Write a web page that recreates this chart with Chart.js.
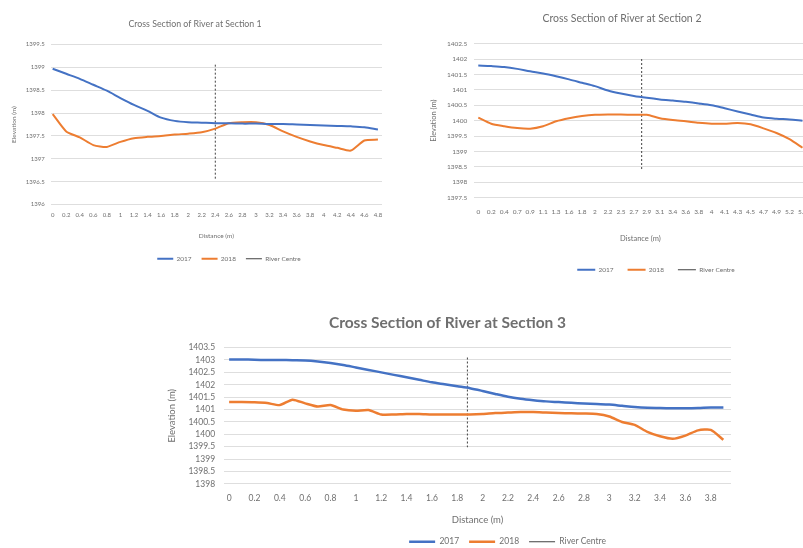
<!DOCTYPE html>
<html>
<head>
<meta charset="utf-8">
<script src="https://cdn.jsdelivr.net/npm/chart.js@4"></script>
<style>
  html, body { margin: 0; padding: 0; background: #fff; overflow: hidden; width: 803px; height: 548px; }
  canvas { position: absolute; }
  #chart1 { left: 0; top: 0; }
  #chart2 { left: 425px; top: 0; }
  #chart3 { left: 160px; top: 300px; }
</style>
</head>
<body>
<canvas id="chart1" width="392" height="276"></canvas>
<canvas id="chart2" width="392" height="289"></canvas>
<canvas id="chart3" width="575" height="256"></canvas>
<script>
// Section 1
const distance1 = [0, 0.2, 0.4, 0.6, 0.8, 1, 1.2, 1.4, 1.6, 1.8, 2, 2.2, 2.4, 2.6, 2.8, 3, 3.2, 3.4, 3.6, 3.8, 4, 4.2, 4.4, 4.6, 4.8];
const elev2017_1 = [1398.97, 1398.86, 1398.75, 1398.62, 1398.49, 1398.33, 1398.18, 1398.05, 1397.9, 1397.83, 1397.8, 1397.79, 1397.78,
  1397.78, 1397.77, 1397.77, 1397.76, 1397.76, 1397.75, 1397.74, 1397.73, 1397.72, 1397.71, 1397.69, 1397.64];
const elev2018_1 = [1397.98, 1397.6, 1397.47, 1397.3, 1397.26, 1397.37, 1397.45, 1397.48, 1397.5, 1397.53, 1397.55, 1397.58, 1397.66,
  1397.78, 1397.8, 1397.8, 1397.74, 1397.6, 1397.48, 1397.38, 1397.3, 1397.24, 1397.18, 1397.4, 1397.42];
const xTicks1 = distance1;
const yTicks1 = [1396, 1396.5, 1397, 1397.5, 1398, 1398.5, 1399, 1399.5];
const riverCentreIdx1 = 12;
const riverCentreY1 = [1399.06, 1396.53];

// Section 2
const distance2 = [0, 0.2, 0.4, 0.7, 0.9, 1.1, 1.3, 1.6, 1.8, 2, 2.2, 2.5, 2.7, 2.9, 3.1, 3.4, 3.6, 3.8, 4, 4.1, 4.3, 4.5, 4.7, 4.9, 5.2, 5.4];
const elev2017_2 = [1401.79, 1401.77, 1401.74, 1401.68, 1401.6, 1401.53, 1401.44, 1401.34, 1401.23, 1401.12, 1400.98, 1400.88, 1400.8,
  1400.74, 1400.69, 1400.65, 1400.61, 1400.56, 1400.5, 1400.4, 1400.3, 1400.2, 1400.1, 1400.06, 1400.04, 1400.0];
const elev2018_2 = [1400.1, 1399.9, 1399.82, 1399.76, 1399.74, 1399.82, 1399.98, 1400.08, 1400.15, 1400.19, 1400.2, 1400.2, 1400.19,
  1400.19, 1400.08, 1400.02, 1399.98, 1399.93, 1399.9, 1399.9, 1399.92, 1399.88, 1399.75, 1399.6, 1399.4, 1399.12];
const xTicks2 = distance2;
const yTicks2 = [1397.5, 1398, 1398.5, 1399, 1399.5, 1400, 1400.5, 1401, 1401.5, 1402, 1402.5];
const riverCentreIdx2 = 12.6;
const riverCentreY2 = [1402.0, 1398.38];

// Section 3
const distance3 = [0, 0.1, 0.2, 0.3, 0.4, 0.5, 0.6, 0.7, 0.8, 0.9, 1, 1.1, 1.2, 1.3, 1.4, 1.5, 1.6, 1.7, 1.8, 1.9,
  2, 2.1, 2.2, 2.3, 2.4, 2.5, 2.6, 2.7, 2.8, 2.9, 3, 3.1, 3.2, 3.3, 3.4, 3.5, 3.6, 3.7, 3.8, 3.9];
const elev2017_3 = [1403.02, 1403.02, 1403.01, 1403.0, 1403.0, 1402.99, 1402.98, 1402.94, 1402.88, 1402.8, 1402.7, 1402.6, 1402.5,
  1402.4, 1402.3, 1402.2, 1402.1, 1402.02, 1401.94, 1401.86, 1401.75, 1401.63, 1401.52, 1401.44, 1401.38, 1401.33, 1401.3,
  1401.27, 1401.24, 1401.22, 1401.2, 1401.15, 1401.1, 1401.07, 1401.06, 1401.05, 1401.05, 1401.06, 1401.08, 1401.08];
const elev2018_3 = [1401.3, 1401.3, 1401.29, 1401.26, 1401.18, 1401.4, 1401.25, 1401.12, 1401.18, 1401.0, 1400.95, 1400.98, 1400.8,
  1400.8, 1400.82, 1400.82, 1400.8, 1400.8, 1400.8, 1400.8, 1400.82, 1400.86, 1400.88, 1400.9, 1400.9, 1400.88, 1400.86,
  1400.85, 1400.84, 1400.82, 1400.72, 1400.5, 1400.38, 1400.1, 1399.92, 1399.82, 1399.95, 1400.16, 1400.18, 1399.78];
const xTicks3 = [0, 0.2, 0.4, 0.6, 0.8, 1, 1.2, 1.4, 1.6, 1.8, 2, 2.2, 2.4, 2.6, 2.8, 3, 3.2, 3.4, 3.6, 3.8];
const yTicks3 = [1398, 1398.5, 1399, 1399.5, 1400, 1400.5, 1401, 1401.5, 1402, 1402.5, 1403, 1403.5];
const riverCentreIdx3 = 18.8;
const riverCentreY3 = [1403.1, 1399.48];

const BLUE = '#4472C4';
const ORANGE = '#ED7D31';
const TEXT = '#6f6f6f';
const FONT = 'Lato, "Open Sans", sans-serif';

// Excel centres the legend a little right of the title; nudge it over after layout
const legendNudge = {
  id: 'legendNudge',
  afterLayout(chart, args, opts) {
    const lg = chart.legend;
    if (lg && opts.dx) { lg.left += opts.dx; lg.right += opts.dx; }
  }
};

function buildChart(id, p) {
  const pts = arr => arr.map((v, i) => ({ x: i, y: v }));
  const tickIdx = p.xTicks.map(t => p.distance.indexOf(t));
  return new Chart(document.getElementById(id), {
    type: 'line',
    data: {
      datasets: [
        { label: '2017', data: pts(p.s2017), borderColor: BLUE, backgroundColor: BLUE, borderWidth: p.lw, pointRadius: 0, tension: 0.3 },
        { label: '2018', data: pts(p.s2018), borderColor: ORANGE, backgroundColor: ORANGE, borderWidth: p.lw, pointRadius: 0, tension: 0.2 },
        { label: 'River Centre', data: p.centreY.map(y => ({ x: p.centreIdx, y: y })), borderColor: '#404040', backgroundColor: '#404040',
          borderWidth: 1, borderDash: [2, 2], pointRadius: 0 }
      ]
    },
    plugins: [legendNudge],
    options: {
      responsive: false,
      animation: false,
      layout: { padding: p.pad },
      plugins: {
        title: { display: true, text: p.title, color: TEXT, font: { family: FONT, size: p.titleSize, weight: p.titleWeight }, padding: p.titlePad },
        legend: {
          position: 'bottom',
          labels: { usePointStyle: true, pointStyle: 'line', pointStyleWidth: p.legendLine, color: TEXT,
            font: { family: FONT, size: p.legendSize }, padding: p.legendGap }
        },
        legendNudge: { dx: p.legendDx },
        tooltip: { enabled: false }
      },
      scales: {
        x: {
          type: 'linear', min: p.xMin, max: p.xMax,
          grid: { display: false, drawTicks: false }, border: { display: false },
          afterBuildTicks: ax => { ax.ticks = tickIdx.map(v => ({ value: v })); },
          ticks: { callback: (v, i) => String(p.xTicks[i]), autoSkip: false, maxRotation: 0, color: TEXT,
            font: { family: FONT, size: p.tickSize }, padding: p.xTickPad },
          title: { display: true, text: 'Distance (m)', color: TEXT, font: { family: FONT, size: p.axisTitleSize }, padding: p.xTitlePad }
        },
        y: {
          min: p.yTicks[0], max: p.yTicks[p.yTicks.length - 1],
          grid: { color: '#dedede', drawTicks: false }, border: { display: false },
          afterBuildTicks: ax => { ax.ticks = p.yTicks.map(v => ({ value: v })); },
          ticks: { callback: v => String(v), autoSkip: false, color: TEXT, font: { family: FONT, size: p.tickSize }, padding: p.yTickPad },
          title: { display: true, text: 'Elevation (m)', color: TEXT, font: { family: FONT, size: p.axisTitleSize }, padding: 2 }
        }
      }
    }
  });
}

buildChart('chart1', {
  title: 'Cross Section of River at Section 1', distance: distance1, s2017: elev2017_1, s2018: elev2018_1,
  xTicks: xTicks1, yTicks: yTicks1, centreIdx: riverCentreIdx1, centreY: riverCentreY1,
  xMin: -0.15, xMax: 24.3, lw: 2, pad: { top: 19, left: 8, right: 10, bottom: 4 },
  titleSize: 8.8, titleWeight: 'normal', titlePad: { top: 0, bottom: 15 },
  tickSize: 6, axisTitleSize: 6.5, xTickPad: 7, yTickPad: 6, xTitlePad: 6,
  legendSize: 6.5, legendLine: 16, legendGap: 10, legendDx: 34
});

buildChart('chart2', {
  title: 'Cross Section of River at Section 2', distance: distance2, s2017: elev2017_2, s2018: elev2018_2,
  xTicks: xTicks2, yTicks: yTicks2, centreIdx: riverCentreIdx2, centreY: riverCentreY2,
  xMin: -0.3, xMax: 25.3, lw: 2, pad: { top: 12, left: 2, right: 0, bottom: 6 },
  titleSize: 10.5, titleWeight: 'normal', titlePad: { top: 0, bottom: 19 },
  tickSize: 6.5, axisTitleSize: 7.5, xTickPad: 10, yTickPad: 7, xTitlePad: 9,
  legendSize: 6.5, legendLine: 18, legendGap: 14, legendDx: 34
});

buildChart('chart3', {
  title: 'Cross Section of River at Section 3', distance: distance3, s2017: elev2017_3, s2018: elev2018_3,
  xTicks: xTicks3, yTicks: yTicks3, centreIdx: riverCentreIdx3, centreY: riverCentreY3,
  xMin: -0.4, xMax: 39.6, lw: 2.5, pad: { top: 14, left: 4, right: 4, bottom: 0 },
  titleSize: 15.5, titleWeight: 'bold', titlePad: { top: 0, bottom: 15 },
  tickSize: 8.5, axisTitleSize: 9.5, xTickPad: 9, yTickPad: 9, xTitlePad: 2,
  legendSize: 8.5, legendLine: 26, legendGap: 10, legendDx: 60
});
</script>
</body>
</html>
